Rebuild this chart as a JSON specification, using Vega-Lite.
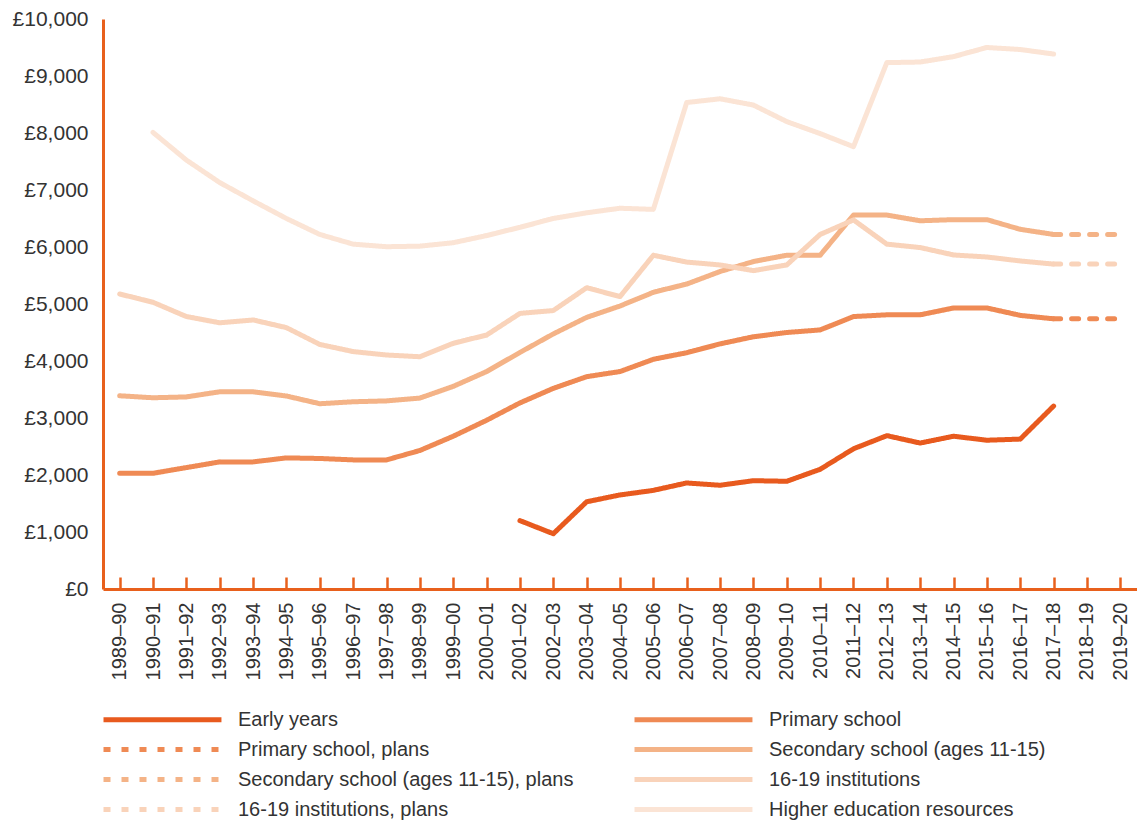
{
 "$schema": "https://vega.github.io/schema/vega-lite/v6.json",
 "width": 1034, "height": 570,
 "autosize": {"type": "none"},
 "padding": {"left": 103, "top": 19, "right": 0, "bottom": 232},
 "background": "white",
 "config": {"view": {"stroke": null}, "font": "Liberation Sans",
  "legend": {"title": null, "orient": "none", "direction": "horizontal", "legendX": -2, "legendY": 686, "columns": 2, "columnPadding": 50, "rowPadding": 5, "symbolType": "M-1,0H8.83", "symbolSize": 576, "symbolStrokeWidth": 5, "labelFontSize": 20, "labelColor": "#333333", "labelOffset": 108, "labelLimit": 500, "padding": 0}},
 "data": {"values": [
  {"s":"Early years","y":"2001–02","v":1200},{"s":"Early years","y":"2002–03","v":970},{"s":"Early years","y":"2003–04","v":1530},{"s":"Early years","y":"2004–05","v":1650},{"s":"Early years","y":"2005–06","v":1730},{"s":"Early years","y":"2006–07","v":1860},{"s":"Early years","y":"2007–08","v":1820},{"s":"Early years","y":"2008–09","v":1900},{"s":"Early years","y":"2009–10","v":1890},{"s":"Early years","y":"2010–11","v":2100},{"s":"Early years","y":"2011–12","v":2460},{"s":"Early years","y":"2012–13","v":2690},{"s":"Early years","y":"2013–14","v":2560},{"s":"Early years","y":"2014–15","v":2680},{"s":"Early years","y":"2015–16","v":2610},{"s":"Early years","y":"2016–17","v":2630},{"s":"Early years","y":"2017–18","v":3210},
  {"s":"Primary school","y":"1989–90","v":2030},{"s":"Primary school","y":"1990–91","v":2030},{"s":"Primary school","y":"1991–92","v":2130},{"s":"Primary school","y":"1992–93","v":2230},{"s":"Primary school","y":"1993–94","v":2230},{"s":"Primary school","y":"1994–95","v":2300},{"s":"Primary school","y":"1995–96","v":2290},{"s":"Primary school","y":"1996–97","v":2265},{"s":"Primary school","y":"1997–98","v":2265},{"s":"Primary school","y":"1998–99","v":2430},{"s":"Primary school","y":"1999–00","v":2680},{"s":"Primary school","y":"2000–01","v":2960},{"s":"Primary school","y":"2001–02","v":3265},{"s":"Primary school","y":"2002–03","v":3520},{"s":"Primary school","y":"2003–04","v":3725},{"s":"Primary school","y":"2004–05","v":3815},{"s":"Primary school","y":"2005–06","v":4030},{"s":"Primary school","y":"2006–07","v":4145},{"s":"Primary school","y":"2007–08","v":4300},{"s":"Primary school","y":"2008–09","v":4425},{"s":"Primary school","y":"2009–10","v":4500},{"s":"Primary school","y":"2010–11","v":4545},{"s":"Primary school","y":"2011–12","v":4780},{"s":"Primary school","y":"2012–13","v":4810},{"s":"Primary school","y":"2013–14","v":4810},{"s":"Primary school","y":"2014–15","v":4930},{"s":"Primary school","y":"2015–16","v":4930},{"s":"Primary school","y":"2016–17","v":4800},{"s":"Primary school","y":"2017–18","v":4740},
  {"s":"Primary school, plans","y":"2017–18","v":4740},{"s":"Primary school, plans","y":"2018–19","v":4740},{"s":"Primary school, plans","y":"2019–20","v":4740},
  {"s":"Secondary school (ages 11-15)","y":"1989–90","v":3390},{"s":"Secondary school (ages 11-15)","y":"1990–91","v":3355},{"s":"Secondary school (ages 11-15)","y":"1991–92","v":3370},{"s":"Secondary school (ages 11-15)","y":"1992–93","v":3460},{"s":"Secondary school (ages 11-15)","y":"1993–94","v":3460},{"s":"Secondary school (ages 11-15)","y":"1994–95","v":3385},{"s":"Secondary school (ages 11-15)","y":"1995–96","v":3250},{"s":"Secondary school (ages 11-15)","y":"1996–97","v":3285},{"s":"Secondary school (ages 11-15)","y":"1997–98","v":3300},{"s":"Secondary school (ages 11-15)","y":"1998–99","v":3350},{"s":"Secondary school (ages 11-15)","y":"1999–00","v":3555},{"s":"Secondary school (ages 11-15)","y":"2000–01","v":3815},{"s":"Secondary school (ages 11-15)","y":"2001–02","v":4150},{"s":"Secondary school (ages 11-15)","y":"2002–03","v":4475},{"s":"Secondary school (ages 11-15)","y":"2003–04","v":4765},{"s":"Secondary school (ages 11-15)","y":"2004–05","v":4965},{"s":"Secondary school (ages 11-15)","y":"2005–06","v":5205},{"s":"Secondary school (ages 11-15)","y":"2006–07","v":5350},{"s":"Secondary school (ages 11-15)","y":"2007–08","v":5570},{"s":"Secondary school (ages 11-15)","y":"2008–09","v":5745},{"s":"Secondary school (ages 11-15)","y":"2009–10","v":5855},{"s":"Secondary school (ages 11-15)","y":"2010–11","v":5855},{"s":"Secondary school (ages 11-15)","y":"2011–12","v":6560},{"s":"Secondary school (ages 11-15)","y":"2012–13","v":6560},{"s":"Secondary school (ages 11-15)","y":"2013–14","v":6460},{"s":"Secondary school (ages 11-15)","y":"2014–15","v":6480},{"s":"Secondary school (ages 11-15)","y":"2015–16","v":6480},{"s":"Secondary school (ages 11-15)","y":"2016–17","v":6310},{"s":"Secondary school (ages 11-15)","y":"2017–18","v":6220},
  {"s":"Secondary school (ages 11-15), plans","y":"2017–18","v":6220},{"s":"Secondary school (ages 11-15), plans","y":"2018–19","v":6220},{"s":"Secondary school (ages 11-15), plans","y":"2019–20","v":6220},
  {"s":"16-19 institutions","y":"1989–90","v":5175},{"s":"16-19 institutions","y":"1990–91","v":5030},{"s":"16-19 institutions","y":"1991–92","v":4780},{"s":"16-19 institutions","y":"1992–93","v":4670},{"s":"16-19 institutions","y":"1993–94","v":4720},{"s":"16-19 institutions","y":"1994–95","v":4585},{"s":"16-19 institutions","y":"1995–96","v":4290},{"s":"16-19 institutions","y":"1996–97","v":4165},{"s":"16-19 institutions","y":"1997–98","v":4105},{"s":"16-19 institutions","y":"1998–99","v":4075},{"s":"16-19 institutions","y":"1999–00","v":4310},{"s":"16-19 institutions","y":"2000–01","v":4455},{"s":"16-19 institutions","y":"2001–02","v":4835},{"s":"16-19 institutions","y":"2002–03","v":4885},{"s":"16-19 institutions","y":"2003–04","v":5285},{"s":"16-19 institutions","y":"2004–05","v":5130},{"s":"16-19 institutions","y":"2005–06","v":5855},{"s":"16-19 institutions","y":"2006–07","v":5735},{"s":"16-19 institutions","y":"2007–08","v":5685},{"s":"16-19 institutions","y":"2008–09","v":5585},{"s":"16-19 institutions","y":"2009–10","v":5685},{"s":"16-19 institutions","y":"2010–11","v":6220},{"s":"16-19 institutions","y":"2011–12","v":6475},{"s":"16-19 institutions","y":"2012–13","v":6050},{"s":"16-19 institutions","y":"2013–14","v":5990},{"s":"16-19 institutions","y":"2014–15","v":5860},{"s":"16-19 institutions","y":"2015–16","v":5825},{"s":"16-19 institutions","y":"2016–17","v":5755},{"s":"16-19 institutions","y":"2017–18","v":5700},
  {"s":"16-19 institutions, plans","y":"2017–18","v":5700},{"s":"16-19 institutions, plans","y":"2018–19","v":5700},{"s":"16-19 institutions, plans","y":"2019–20","v":5700},
  {"s":"Higher education resources","y":"1990–91","v":8010},{"s":"Higher education resources","y":"1991–92","v":7525},{"s":"Higher education resources","y":"1992–93","v":7130},{"s":"Higher education resources","y":"1993–94","v":6810},{"s":"Higher education resources","y":"1994–95","v":6500},{"s":"Higher education resources","y":"1995–96","v":6220},{"s":"Higher education resources","y":"1996–97","v":6050},{"s":"Higher education resources","y":"1997–98","v":6005},{"s":"Higher education resources","y":"1998–99","v":6015},{"s":"Higher education resources","y":"1999–00","v":6075},{"s":"Higher education resources","y":"2000–01","v":6200},{"s":"Higher education resources","y":"2001–02","v":6345},{"s":"Higher education resources","y":"2002–03","v":6500},{"s":"Higher education resources","y":"2003–04","v":6600},{"s":"Higher education resources","y":"2004–05","v":6680},{"s":"Higher education resources","y":"2005–06","v":6660},{"s":"Higher education resources","y":"2006–07","v":8535},{"s":"Higher education resources","y":"2007–08","v":8600},{"s":"Higher education resources","y":"2008–09","v":8490},{"s":"Higher education resources","y":"2009–10","v":8200},{"s":"Higher education resources","y":"2010–11","v":7990},{"s":"Higher education resources","y":"2011–12","v":7760},{"s":"Higher education resources","y":"2012–13","v":9235},{"s":"Higher education resources","y":"2013–14","v":9245},{"s":"Higher education resources","y":"2014–15","v":9340},{"s":"Higher education resources","y":"2015–16","v":9500},{"s":"Higher education resources","y":"2016–17","v":9465},{"s":"Higher education resources","y":"2017–18","v":9385}
 ]},
 "mark": {"type": "line", "strokeWidth": 5, "strokeCap": "round", "strokeJoin": "round"},
 "encoding": {
  "x": {"field": "y", "type": "ordinal",
   "sort": ["1989–90","1990–91","1991–92","1992–93","1993–94","1994–95","1995–96","1996–97","1997–98","1998–99","1999–00","2000–01","2001–02","2002–03","2003–04","2004–05","2005–06","2006–07","2007–08","2008–09","2009–10","2010–11","2011–12","2012–13","2013–14","2014–15","2015–16","2016–17","2017–18","2018–19","2019–20"],
   "scale": {"type": "point", "padding": 0.5, "domain": ["1989–90","1990–91","1991–92","1992–93","1993–94","1994–95","1995–96","1996–97","1997–98","1998–99","1999–00","2000–01","2001–02","2002–03","2003–04","2004–05","2005–06","2006–07","2007–08","2008–09","2009–10","2010–11","2011–12","2012–13","2013–14","2014–15","2015–16","2016–17","2017–18","2018–19","2019–20"]},
   "axis": {"title": null, "labelAngle": -90, "labelFontSize": 20, "labelColor": "#333333", "labelPadding": 25, "domainColor": "#E8601C", "domainWidth": 3, "tickColor": "#E8601C", "tickWidth": 2.5, "tickSize": -12, "grid": false}},
  "y": {"field": "v", "type": "quantitative",
   "scale": {"domain": [0, 10000], "nice": false},
   "axis": {"title": null, "values": [0,1000,2000,3000,4000,5000,6000,7000,8000,9000,10000], "labelExpr": "'£' + format(datum.value, ',')", "labelFontSize": 21, "labelColor": "#333333", "labelPadding": 15, "ticks": false, "domainColor": "#E8601C", "domainWidth": 3, "grid": false}},
  "color": {"field": "s", "type": "nominal",
   "scale": {"domain": ["Early years","Primary school","Primary school, plans","Secondary school (ages 11-15)","Secondary school (ages 11-15), plans","16-19 institutions","16-19 institutions, plans","Higher education resources"],
    "range": ["#E85A1E","#EF8A54","#EF8A54","#F4B387","#F4B387","#F9D3BA","#F9D3BA","#FBE4D5"]}},
  "strokeDash": {"field": "s", "type": "nominal",
   "scale": {"domain": ["Early years","Primary school","Primary school, plans","Secondary school (ages 11-15)","Secondary school (ages 11-15), plans","16-19 institutions","16-19 institutions, plans","Higher education resources"],
    "range": [[1,0],[1,0],[7,11],[1,0],[7,11],[1,0],[7,11],[1,0]]}}
 }
}
